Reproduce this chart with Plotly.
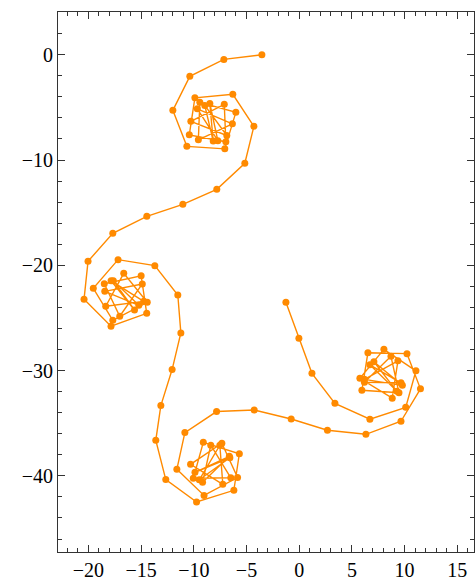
import plotly.graph_objects as go

# Path coordinates (in order along the curve)
x_vals = [
    -3.54, -7.15, -10.38, -11.99, -10.66, -7.06, -6.01, -9.43, -9.57, -6.34,
    -9.67, -7.72, -8.48, -8.16, -8.96, -6.87, -10.28, -7.11, -6.96, -10.43,
    -9.90, -6.30, -4.30, -5.16, -7.82, -11.04, -14.46, -17.69, -20.04, -20.42,
    -17.86, -14.47, -15.00, -18.50, -17.03, -14.89, -18.45, -15.22, -17.64, -15.63,
    -17.85, -14.75, -18.36, -16.65, -14.42, -17.69, -19.54, -17.19, -13.70, -11.52,
    -11.23, -12.06, -13.13, -13.61, -12.66, -9.74, -6.20, -5.68, -9.10, -10.05,
    -6.49, -8.39, -9.17, -6.63, -9.89, -6.58, -9.48, -7.53, -7.25, -10.31,
    -7.34, -5.85, -9.03, -11.61, -10.85, -7.84, -4.27, -0.76, 2.68, 6.33,
    9.66, 11.51, 10.23, 6.52, 5.95, 9.47, 8.71, 6.19, 9.66, 6.71,
    9.28, 7.09, 9.79, 6.19, 9.37, 8.83, 5.76, 8.04, 11.08, 10.11,
    6.71, 3.39, 1.21, -0.03, -1.26,
]
y_vals = [
    0.00, -0.44, -2.05, -5.28, -8.70, -8.94, -5.47, -4.52, -8.08, -6.56,
    -5.14, -8.16, -4.63, -8.20, -4.81, -7.67, -6.32, -4.71, -8.27, -7.61,
    -4.09, -3.76, -6.80, -10.31, -12.78, -14.21, -15.35, -16.96, -19.62, -23.23,
    -25.78, -24.56, -20.99, -21.76, -24.84, -21.77, -22.47, -23.80, -21.46, -24.24,
    -21.47, -23.42, -23.89, -20.76, -23.51, -25.22, -22.18, -19.46, -20.03, -22.82,
    -26.43, -29.90, -33.32, -36.62, -40.35, -42.48, -41.37, -37.90, -36.81, -40.23,
    -40.18, -37.09, -40.61, -38.14, -39.66, -38.28, -40.37, -37.09, -40.80, -38.90,
    -36.90, -40.16, -41.86, -39.37, -35.89, -33.89, -33.74, -34.60, -35.67, -36.05,
    -34.81, -31.73, -28.39, -28.31, -31.87, -32.11, -28.64, -31.11, -31.16, -29.45,
    -31.97, -29.16, -31.40, -30.83, -29.07, -32.62, -30.73, -27.98, -30.02, -33.49,
    -34.62, -33.11, -30.26, -26.93, -23.51,
]

x_ticks = [-20, -15, -10, -5, 0, 5, 10, 15]
y_ticks = [0, -10, -20, -30, -40]


def lab(v):
    return ("\u2212" + str(-v)) if v < 0 else str(v)


orange = "rgb(255,138,0)"
frame = "#333333"

fig = go.Figure()
fig.add_trace(go.Scatter(
    x=x_vals, y=y_vals, mode="lines+markers",
    line=dict(color=orange, width=1.4),
    marker=dict(color=orange, size=7),
    showlegend=False, hoverinfo="skip",
))

axis_common = dict(
    showgrid=False, zeroline=False, showline=True, linecolor=frame, linewidth=1,
    mirror="allticks", ticks="inside", tickcolor=frame, ticklen=7, tickwidth=1,
    tickfont=dict(family="Liberation Serif, Times New Roman, serif", size=20, color="#000"),
)

fig.update_xaxes(
    range=[-22.89, 16.59], tickvals=x_ticks, ticktext=[lab(v) for v in x_ticks],
    minor=dict(ticks="inside", dtick=1, ticklen=4, tickcolor=frame, tickwidth=1, showgrid=False),
    **axis_common,
)
fig.update_yaxes(
    range=[-47.23, 4.06], tickvals=y_ticks, ticktext=[lab(v) for v in y_ticks],
    minor=dict(ticks="inside", dtick=2, ticklen=4, tickcolor=frame, tickwidth=1, showgrid=False),
    **axis_common,
)

fig.update_layout(
    width=475, height=582,
    margin=dict(l=58, r=1, t=12, b=30),
    paper_bgcolor="white", plot_bgcolor="white",
)

fig.write_html("out.html")
